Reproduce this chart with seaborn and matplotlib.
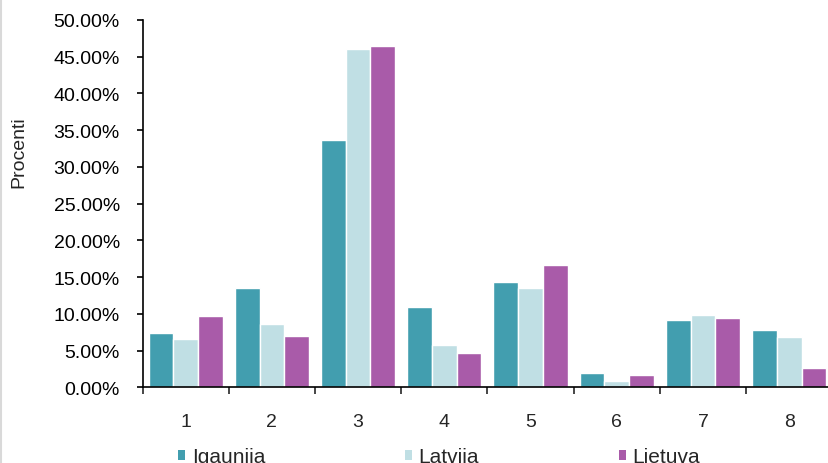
import matplotlib
matplotlib.use("Agg")
import matplotlib.pyplot as plt
import seaborn as sns
import pandas as pd
from matplotlib.ticker import FuncFormatter, FixedLocator
from matplotlib.patches import Patch
from matplotlib.lines import Line2D

categories = ["1", "2", "3", "4", "5", "6", "7", "8"]
igaunija = [7.35, 13.47, 33.60, 10.88, 14.29, 1.90, 9.16, 7.84]
latvija = [6.53, 8.61, 45.99, 5.76, 13.51, 0.86, 9.88, 6.80]
lietuva = [9.66, 7.02, 46.48, 4.71, 16.64, 1.63, 9.39, 2.67]
series_names = ["Igaunija", "Latvija", "Lietuva"]
colors = ["#429eaf", "#c0dfe4", "#a95ba9"]
y_ticks = [0, 5, 10, 15, 20, 25, 30, 35, 40, 45, 50]

rows = []
for name, vals in zip(series_names, [igaunija, latvija, lietuva]):
    for c, v in zip(categories, vals):
        rows.append({"cat": c, "series": name, "val": v})
df = pd.DataFrame(rows)

sns.set_style("white")
plt.rcParams["font.family"] = ["Liberation Sans", "DejaVu Sans"]
FS = 14

fig = plt.figure(figsize=(8.29, 4.64), dpi=100)
ax = fig.add_axes([0.172, 0.163, 0.832, 0.792])

sns.barplot(data=df, x="cat", y="val", hue="series", order=categories,
            hue_order=series_names, palette=colors, saturation=1, width=0.86,
            edgecolor="white", linewidth=1, ax=ax, legend=False, errorbar=None)

ax.set_ylim(0, 50)
ax.set_xlim(-0.5, 7.5)
ax.yaxis.set_major_locator(FixedLocator(y_ticks))
ax.yaxis.set_major_formatter(FuncFormatter(lambda v, p: f"{v:.2f}%"))
ax.tick_params(axis="y", labelsize=FS, length=4.3, width=1.2, direction="out",
               left=True, pad=12, colors="black")

# x ticks at group boundaries, labels at centers
ax.set_xticks([i - 0.5 for i in range(len(categories) + 1)])
ax.set_xticklabels([])
ax.set_xticks(range(len(categories)), minor=True)
ax.set_xticklabels(categories, minor=True)
ax.tick_params(axis="x", which="major", length=5, width=1.2, direction="out", bottom=True)
ax.tick_params(axis="x", which="minor", length=0, labelsize=FS, pad=18.5)

for s in ["top", "right"]:
    ax.spines[s].set_visible(False)
for s in ["left", "bottom"]:
    ax.spines[s].set_color("black")
    ax.spines[s].set_linewidth(1.2)

ax.set_xlabel("")
ax.set_ylabel("")
fig.text(19 / 829, 1 - 152 / 464, "Procenti", rotation=90, ha="center", va="center",
         fontsize=FS)

handles = [Patch(facecolor=c, edgecolor="none") for c in colors]
fig.legend(handles, series_names, loc="center left", bbox_to_anchor=(178 / 829, 1 - 458 / 464),
           ncol=3, frameon=False, fontsize=15, handlelength=0.34, handleheight=0.34,
           handletextpad=0.32, columnspacing=6.7, borderaxespad=0, borderpad=0)

fig.add_artist(Line2D([1.5 / 829, 1.5 / 829], [0, 1], color="#d9d9d9", lw=1.5,
                      transform=fig.transFigure))

fig.savefig("out.png", dpi=100, facecolor="white")
